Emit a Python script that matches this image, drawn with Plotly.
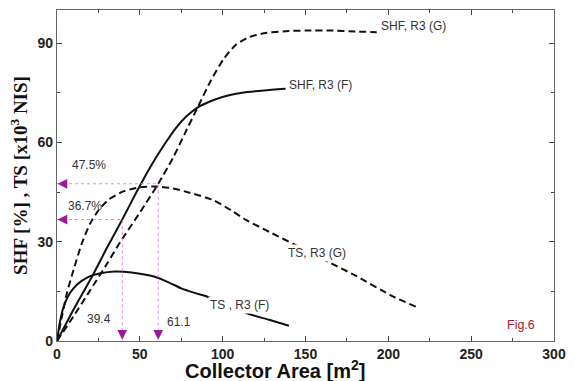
import plotly.graph_objects as go

# SHF, R3 (F) - solid
shf_f_x = [0, 10, 21.5, 30, 39.4, 48, 56, 65, 72, 78, 85, 95, 104.5, 115, 125, 138]
shf_f_y = [0, 9.5, 19.8, 28, 36.7, 45, 52.3, 59.5, 64.5, 67.8, 70.6, 72.9, 74.3, 75.2, 75.7, 76.2]

# SHF, R3 (G) - dashed
shf_g_x = [0, 10, 20, 30, 38.3, 50, 61.1, 70, 77, 85, 93, 100.6, 108, 116, 125, 138, 150, 165, 180, 193]
shf_g_y = [0, 7.5, 15.3, 23.2, 30, 38.8, 47.5, 55.3, 62.5, 70.7, 78.8, 85.2, 89.5, 91.8, 93, 93.6, 93.8, 93.8, 93.5, 93.3]

# TS, R3 (G) - dashed
ts_g_x = [0, 3, 6, 10, 15, 20, 25, 31.4, 40, 50, 60, 70, 80, 94.7, 105, 114.4, 130, 144, 161.8, 180, 203, 217]
ts_g_y = [0, 7.5, 14.5, 21.5, 29.5, 35.5, 39.5, 42.8, 45.2, 46.4, 46.7, 46.1, 44.8, 42.5, 39.5, 36.5, 32.5, 29, 24.4, 19.8, 13.4, 10.3]

# TS, R3 (F) - solid
ts_f_x = [0, 1.5, 3.5, 7.7, 12, 15.6, 20, 25.5, 35, 45, 59, 67, 75, 84, 93, 104, 115, 128, 140]
ts_f_y = [0, 5, 9.5, 14.4, 17, 18.4, 19.6, 20.4, 21, 20.7, 19.4, 17.8, 15.9, 14.4, 13, 10.6, 8.3, 6.4, 4.6]

# optimum points
opt_area = [39.4, 61.1]
opt_shf = [36.7, 47.5]
opt_pct_labels = ["36.7%", "47.5%"]
opt_area_labels = ["39.4", "61.1"]

fig = go.Figure()

line_col = "#111111"
sp = dict(shape="spline", smoothing=0.6)
fig.add_trace(go.Scatter(x=shf_f_x, y=shf_f_y, mode="lines", line=dict(color=line_col, width=2, **sp), showlegend=False))
fig.add_trace(go.Scatter(x=shf_g_x, y=shf_g_y, mode="lines", line=dict(color=line_col, width=2, dash="7px,4px", **sp), showlegend=False))
fig.add_trace(go.Scatter(x=ts_g_x, y=ts_g_y, mode="lines", line=dict(color=line_col, width=2, dash="7px,4px", **sp), showlegend=False))
fig.add_trace(go.Scatter(x=ts_f_x, y=ts_f_y, mode="lines", line=dict(color=line_col, width=2, **sp), showlegend=False))

mag_line = "#e48ae4"
mag_arrow = "#9a1a9a"
for a, s in zip(opt_area, opt_shf):
    fig.add_trace(go.Scatter(x=[0, a, a], y=[s, s, 0], mode="lines",
                             line=dict(color=mag_line, width=1, dash="dot"), showlegend=False))
    fig.add_annotation(x=0.3, y=s, ax=11, ay=0, text="", showarrow=True, arrowhead=2,
                       arrowsize=1.3, arrowwidth=1.5, arrowcolor=mag_arrow)
    fig.add_annotation(x=a, y=0.4, ax=0, ay=-11, text="", showarrow=True, arrowhead=2,
                       arrowsize=1.3, arrowwidth=1.5, arrowcolor=mag_arrow)

txt_font = dict(family="Arial, Liberation Sans, sans-serif", size=12, color="#333333")
annots = [
    dict(x=16.9, y=40.7, text=opt_pct_labels[0]),
    dict(x=19.6, y=53.3, text=opt_pct_labels[1]),
    dict(x=25.3, y=6.5, text=opt_area_labels[0]),
    dict(x=73.4, y=5.8, text=opt_area_labels[1]),
]
for an in annots:
    fig.add_annotation(x=an["x"], y=an["y"], text=an["text"], showarrow=False, font=txt_font)

fig.add_annotation(x=194.5, y=95.3, text="SHF, R3 (G)", showarrow=False, xanchor="left", font=txt_font)
fig.add_annotation(x=139, y=77.3, text="SHF, R3 (F)", showarrow=False, xanchor="left", font=txt_font)
fig.add_annotation(x=157, y=26.5, text="TS, R3 (G)", showarrow=False, font=txt_font, bgcolor="white")
fig.add_annotation(x=110, y=10.8, text="TS , R3 (F)", showarrow=False, font=txt_font, bgcolor="white")
fig.add_annotation(x=280, y=4.8, text="Fig.6", showarrow=False,
                   font=dict(family="Arial, Liberation Sans, sans-serif", size=12.5, color="#a32030"))

# x-axis title (placed slightly left of centre, as in the reference)
fig.add_annotation(xref="paper", yref="paper", x=0.4387, y=-0.087, xanchor="center", yanchor="middle",
                   text="Collector Area [m<sup>2</sup>]", showarrow=False,
                   font=dict(family="Arial, Liberation Sans, sans-serif", size=20, color="#111111", weight="bold"))

axis_common = dict(
    showline=True, linecolor="#666666", linewidth=1.2, mirror="ticks",
    ticks="inside", ticklen=5, tickcolor="#444444", tickwidth=1,
    showgrid=False, zeroline=False,
    tickfont=dict(family="Arial, Liberation Sans, sans-serif", size=14, color="#222222", weight="bold"),
)

fig.update_xaxes(range=[0, 300], dtick=50, tick0=0,
                 minor=dict(dtick=25, ticks="inside", ticklen=3, tickcolor="#444444"),
                 **axis_common)
fig.update_yaxes(range=[0, 100], dtick=30, tick0=0,
                 minor=dict(dtick=15, ticks="inside", ticklen=3, tickcolor="#444444"),
                 title=dict(text="SHF [%] , TS [x10<sup>3</sup> NIS]", standoff=4,
                            font=dict(family="Liberation Serif, Times New Roman, serif", size=19, color="#111111", weight="bold")),
                 **axis_common)

fig.update_layout(
    width=575, height=381,
    margin=dict(l=57, r=12, t=9, b=40),
    paper_bgcolor="white", plot_bgcolor="white",
    showlegend=False,
)

fig.write_html("out.html")
